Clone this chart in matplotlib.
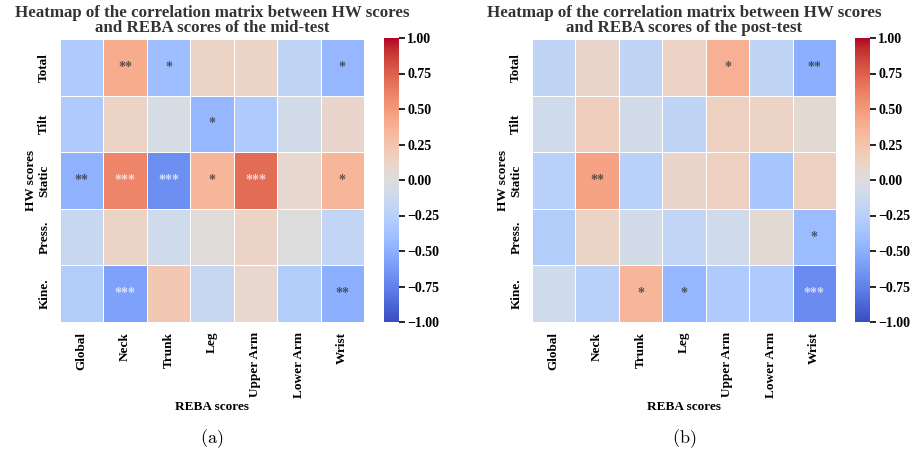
import matplotlib.pyplot as plt
import numpy as np
import seaborn as sns

plt.rcParams['font.family'] = ['Liberation Serif', 'DejaVu Serif']
plt.rcParams['mathtext.fontset'] = 'cm'

reba = ['Global', 'Neck', 'Trunk', 'Leg', 'Upper Arm', 'Lower Arm', 'Wrist']
hw = ['Total', 'Tilt', 'Static', 'Press.', 'Kine.']

# mid-test correlations (rows = HW scores, cols = REBA scores)
mid_corr = np.array([
    [-0.30, 0.40, -0.40, 0.12, 0.12, -0.20, -0.45],
    [-0.30, 0.12, -0.05, -0.45, -0.30, -0.08, 0.10],
    [-0.48, 0.60, -0.68, 0.35, 0.70, 0.08, 0.35],
    [-0.15, 0.12, -0.10, 0.02, 0.12, 0.00, -0.18],
    [-0.28, -0.58, 0.22, -0.15, 0.08, -0.28, -0.50],
])
mid_stars = [
    ['', '**', '*', '', '', '', '*'],
    ['', '', '', '*', '', '', ''],
    ['**', '***', '***', '*', '***', '', '*'],
    ['', '', '', '', '', '', ''],
    ['', '***', '', '', '', '', '**'],
]

# post-test correlations
post_corr = np.array([
    [-0.20, 0.10, -0.20, 0.13, 0.38, -0.20, -0.50],
    [-0.10, 0.17, -0.08, -0.20, 0.15, 0.12, 0.05],
    [-0.25, 0.45, -0.25, 0.10, 0.15, -0.35, 0.15],
    [-0.28, 0.12, -0.08, -0.18, -0.10, 0.05, -0.42],
    [-0.10, -0.25, 0.35, -0.45, -0.30, -0.30, -0.70],
])
post_stars = [
    ['', '', '', '', '*', '', '**'],
    ['', '', '', '', '', '', ''],
    ['', '**', '', '', '', '', ''],
    ['', '', '', '', '', '', '*'],
    ['', '', '*', '*', '', '', '***'],
]

cticks = [-1, -0.75, -0.5, -0.25, 0, 0.25, 0.5, 0.75, 1]

W, H = 914, 457
fig = plt.figure(figsize=(W / 100, H / 100), dpi=100)

panels = [
    (mid_corr, mid_stars, 'mid-test', 60, 384, '(a)'),
    (post_corr, post_stars, 'post-test', 532, 855, '(b)'),
]

for corr, stars, name, x0, cx0, tag in panels:
    ax = fig.add_axes([x0 / W, 1 - 322 / H, 304 / W, 283 / H])
    cax = fig.add_axes([cx0 / W, 1 - 322 / H, 15 / W, 284 / H])
    sns.heatmap(corr, ax=ax, cbar_ax=cax, cmap='coolwarm', vmin=-1, vmax=1,
                annot=np.array(stars), fmt='', linewidths=0.6, linecolor='white',
                annot_kws={'fontsize': 10, 'fontweight': 'bold', 'alpha': 0.7},
                xticklabels=reba, yticklabels=hw)
    ax.tick_params(length=0, pad=7)
    ax.set_xticklabels(reba, rotation=90, fontsize=9.5, fontweight='bold')
    ax.set_yticklabels(hw, rotation=90, va='center', fontsize=9.5, fontweight='bold')
    ax.set_xlabel('REBA scores', fontsize=9.5, fontweight='bold', labelpad=2)
    ax.set_ylabel('HW scores', fontsize=9.5, fontweight='bold', labelpad=1)
    ax.set_title('Heatmap of the correlation matrix between HW scores\n'
                 f'and REBA scores of the {name}', fontsize=12.2,
                 fontweight='bold', color='#333333', pad=5, linespacing=0.95)
    cax.set_yticks(cticks)
    cax.set_yticklabels([f'{v:.2f}'.replace('-', '\u2212') for v in cticks],
                        fontweight='bold')
    cax.tick_params(labelsize=10, length=4, width=1.2, pad=2)
    fig.text((x0 + 152) / W, 1 - 439 / H, r'$\mathrm{' + tag + '}$',
             ha='center', va='center', fontsize=13)

fig.savefig('out.png', dpi=100)
